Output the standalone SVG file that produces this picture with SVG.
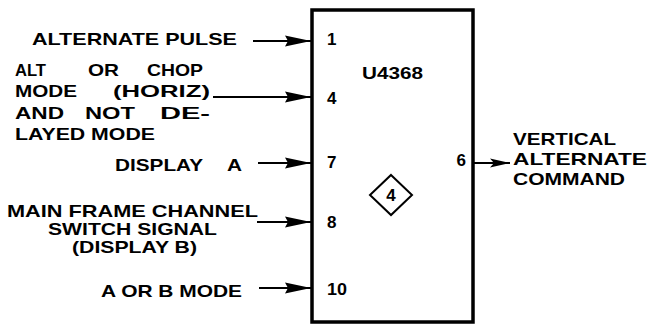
<svg xmlns="http://www.w3.org/2000/svg" width="649" height="326" viewBox="0 0 649 326">
<style>
text{font-family:"Liberation Sans",Arial,sans-serif;font-weight:bold;font-size:17px;fill:#000}
.sm{font-size:16.5px}
.ln{stroke:#000;stroke-width:1.8;fill:none}
</style>
<defs>
<marker id="ah" markerUnits="userSpaceOnUse" markerWidth="26" markerHeight="13" refX="26" refY="6.5" orient="auto"><path d="M0,1 L26,6.5 L0,12 L3,6.5 Z" fill="#000"/></marker>
<marker id="ah2" markerUnits="userSpaceOnUse" markerWidth="20" markerHeight="10" refX="20" refY="5" orient="auto"><path d="M0,0.5 L20,5 L0,9.5 L4,5 Z" fill="#000"/></marker>
</defs>
<rect width="649" height="326" fill="#fff"/>
<g id="u4368">
<rect x="312" y="10" width="161" height="312" fill="none" stroke="#000" stroke-width="3.5"/>
<text x="362" y="79" textLength="61" lengthAdjust="spacingAndGlyphs">U4368</text>
<text x="327" y="45">1</text>
<text x="327" y="104">4</text>
<text x="327" y="168">7</text>
<text x="327" y="228">8</text>
<text x="327" y="295" textLength="20" lengthAdjust="spacingAndGlyphs">10</text>
<text x="466" y="166" text-anchor="end">6</text>
<path d="M391,175 L412,195 L391,215 L370,195 Z" fill="none" stroke="#000" stroke-width="2"/>
<text x="391" y="201" text-anchor="middle">4</text>
</g>
<g id="in1"><text x="32" y="45" textLength="205" lengthAdjust="spacingAndGlyphs">ALTERNATE PULSE</text></g>
<g id="in4">
<text class="sm" x="15" y="76" textLength="31" lengthAdjust="spacingAndGlyphs">ALT</text>
<text class="sm" x="88" y="76" textLength="31" lengthAdjust="spacingAndGlyphs">OR</text>
<text class="sm" x="147" y="76" textLength="56" lengthAdjust="spacingAndGlyphs">CHOP</text>
<text class="sm" x="15" y="97" textLength="62" lengthAdjust="spacingAndGlyphs">MODE</text>
<text class="sm" x="113" y="97" textLength="97" lengthAdjust="spacingAndGlyphs">(HORIZ)</text>
<text class="sm" x="15" y="119" textLength="49" lengthAdjust="spacingAndGlyphs">AND</text>
<text class="sm" x="85" y="119" textLength="50" lengthAdjust="spacingAndGlyphs">NOT</text>
<text class="sm" x="160" y="119" textLength="50" lengthAdjust="spacingAndGlyphs">DE-</text>
<text class="sm" x="15" y="140" textLength="140" lengthAdjust="spacingAndGlyphs">LAYED MODE</text>
</g>
<g id="in7">
<text x="115" y="171" textLength="88" lengthAdjust="spacingAndGlyphs">DISPLAY</text>
<text x="227" y="171" textLength="15" lengthAdjust="spacingAndGlyphs">A</text>
</g>
<g id="in8">
<text x="7" y="217" textLength="251" lengthAdjust="spacingAndGlyphs">MAIN FRAME CHANNEL</text>
<text x="48" y="235" textLength="169" lengthAdjust="spacingAndGlyphs">SWITCH SIGNAL</text>
<text x="72" y="253" textLength="125" lengthAdjust="spacingAndGlyphs">(DISPLAY B)</text>
</g>
<g id="in10"><text x="101" y="297" textLength="141" lengthAdjust="spacingAndGlyphs">A OR B MODE</text></g>
<g id="out6">
<text x="513" y="145" textLength="103" lengthAdjust="spacingAndGlyphs">VERTICAL</text>
<text x="513" y="165" textLength="134" lengthAdjust="spacingAndGlyphs">ALTERNATE</text>
<text x="513" y="185" textLength="112" lengthAdjust="spacingAndGlyphs">COMMAND</text>
</g>
<g id="connectors">
<line class="ln" x1="253" y1="41" x2="311" y2="41" marker-end="url(#ah)"/>
<line class="ln" x1="213" y1="97" x2="311" y2="97" marker-end="url(#ah)"/>
<line class="ln" x1="258" y1="163" x2="311" y2="163" marker-end="url(#ah)"/>
<line class="ln" x1="257" y1="222" x2="311" y2="222" marker-end="url(#ah)"/>
<line class="ln" x1="259" y1="288" x2="311" y2="288" marker-end="url(#ah)"/>
<line class="ln" x1="474" y1="163" x2="510" y2="163" marker-end="url(#ah2)"/>
</g>
</svg>
